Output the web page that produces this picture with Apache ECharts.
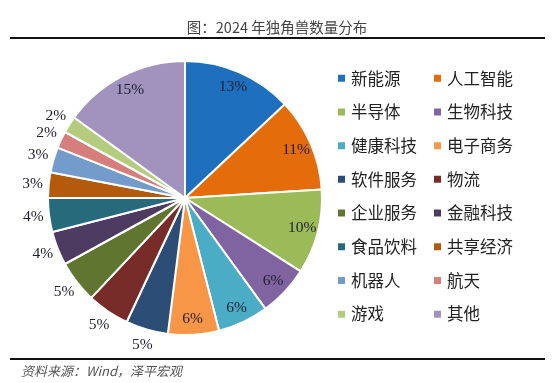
<!DOCTYPE html>
<html>
<head>
<meta charset="utf-8">
<script src="https://cdn.jsdelivr.net/npm/echarts@6/dist/echarts.min.js"></script>
<style>html,body{margin:0;padding:0;background:#fff;}#c{width:554px;height:383px;}</style>
</head>
<body>
<div id="c"></div>
<script>
const categories = ['新能源','人工智能','半导体','生物科技','健康科技','电子商务','软件服务','物流','企业服务','金融科技','食品饮料','共享经济','机器人','航天','游戏','其他'];
const shares = [13, 11, 10, 6, 6, 6, 5, 5, 5, 4, 4, 3, 3, 2, 2, 15];
const colors = ['#1F6FBF','#E46C0A','#9BBB59','#8064A2','#4BACC6','#F79646','#2C4D75','#772C2A','#5F7530','#4D3B62','#276A7C','#B35A0D','#739BCB','#D57E7B','#B3CC7E','#A193BE'];
const insideLabels = ['新能源','人工智能','半导体','生物科技','健康科技','电子商务','其他'];
const titleText = '图：2024 年独角兽数量分布';
const sourceText = '资料来源：Wind，泽平宏观';

const chart = echarts.init(document.getElementById('c'), null, {renderer: 'canvas'});
const baseData = categories.map((c, i) => ({name: c, value: shares[i], itemStyle: {color: colors[i]}}));
const center = [185, 198];
const labelFont = {fontFamily: 'Liberation Serif, DejaVu Serif, serif', fontSize: 15.5, color: '#1e1e30'};

function overlay(showSet, radius) {
  return {
    type: 'pie', center: center, radius: radius, silent: true, startAngle: 90,
    itemStyle: {color: 'rgba(0,0,0,0)', borderWidth: 0},
    labelLine: {show: false}, emphasis: {disabled: true},
    data: categories.map((c, i) => ({
      name: c, value: shares[i],
      label: Object.assign({show: showSet(c), position: 'inside', formatter: shares[i] + '%'}, labelFont)
    })),
    z: 5
  };
}

const leftCol = categories.filter((c, i) => i % 2 === 0);
const rightCol = categories.filter((c, i) => i % 2 === 1);
const legendBase = {
  orient: 'vertical', top: 70, padding: 0, itemWidth: 9, itemHeight: 9, itemGap: 17.2, itemTextGap: 9,
  icon: 'rect', selectedMode: false,
  textStyle: {fontFamily: 'Noto Sans CJK SC', fontSize: 16.5, lineHeight: 16.5, color: '#222'}
};

chart.setOption({
  animation: false,
  color: colors,
  title: {
    text: titleText, left: 'center', top: 15,
    textStyle: {fontFamily: 'Noto Sans CJK SC', fontSize: 14.5, fontWeight: 'normal', color: '#444'}
  },
  legend: [
    Object.assign({}, legendBase, {left: 336, data: leftCol}),
    Object.assign({}, legendBase, {left: 432, data: rightCol})
  ],
  graphic: [
    {type: 'rect', shape: {x: 10, y: 37, width: 535, height: 2}, style: {fill: '#111'}},
    {type: 'rect', shape: {x: 10, y: 358, width: 535, height: 2}, style: {fill: '#111'}},
    {type: 'text', left: 21, top: 365, style: {text: sourceText, fontFamily: 'Noto Sans CJK SC', fontSize: 13, fontStyle: 'italic', fill: '#555'}}
  ],
  series: [
    {
      type: 'pie', center: center, radius: 137, startAngle: 90,
      itemStyle: {borderColor: '#fff', borderWidth: 2},
      label: {show: false}, labelLine: {show: false}, emphasis: {disabled: true},
      data: baseData
    },
    overlay(c => insideLabels.indexOf(c) >= 0, [106, 130]),
    overlay(c => insideLabels.indexOf(c) < 0, [140, 160])
  ]
});
</script>
</body>
</html>
